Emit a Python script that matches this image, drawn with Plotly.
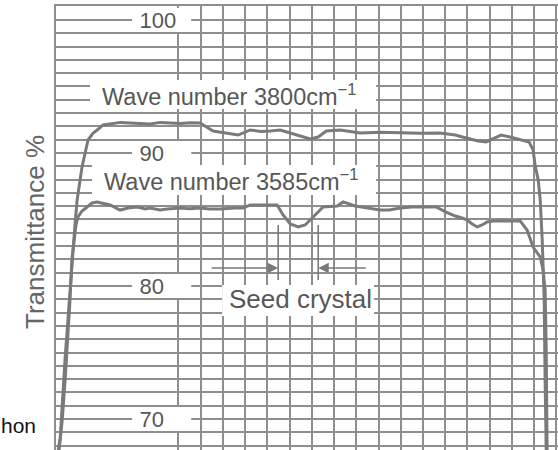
import plotly.graph_objects as go

# ---- data ----
tick_vals = [70, 80, 90, 100]
tick_text = ["70", "80", "90", "100"]

x_3800 = [-0.40, -0.31, -0.09, 0.22, 0.36, 0.45, 0.67, 0.94, 1.17, 1.35, 1.62, 1.93, 2.40, 2.83,
          3.30, 3.73, 4.20, 4.63, 5.10, 5.55, 5.98, 6.56, 7.10, 7.69, 8.23, 8.70, 9.13, 9.58,
          10.03, 10.48, 10.93, 11.29, 11.65, 12.28, 13.17, 14.10, 14.97, 15.90, 16.77, 17.45,
          17.94, 18.48, 18.84, 19.24, 19.51, 19.92, 20.46, 20.77, 20.95, 21.04, 21.18, 21.27,
          21.36, 21.45, 21.49, 21.54]
y_3800 = [67.67, 68.57, 74.59, 82.11, 84.74, 86.47, 88.95, 90.98, 91.50, 91.73, 92.11, 92.18,
          92.30, 92.26, 92.20, 92.18, 92.30, 92.26, 92.22, 92.28, 92.26, 91.65, 91.50, 91.35,
          91.73, 91.62, 91.65, 91.73, 91.50, 91.28, 91.05, 91.20, 91.65, 91.73, 91.50, 91.55,
          91.50, 91.48, 91.50, 91.35, 91.13, 90.90, 90.83, 91.13, 91.35, 91.20, 90.98, 90.83,
          90.23, 89.10, 87.97, 86.47, 83.46, 78.95, 72.93, 67.67]

x_3585 = [-0.36, -0.22, -0.09, 0.00, 0.13, 0.22, 0.27, 0.40, 0.49, 0.67, 0.90, 1.12, 1.35, 1.71,
          1.93, 2.38, 2.74, 3.15, 3.51, 3.73, 4.18, 4.50, 5.08, 5.50, 5.98, 6.40, 6.88, 7.55,
          7.91, 8.23, 8.90, 9.44, 9.71, 10.03, 10.39, 10.70, 11.06, 11.51, 12.14, 12.41, 12.95,
          13.49, 14.07, 14.48, 14.97, 15.51, 16.10, 16.59, 17.04, 17.45, 17.76, 17.99, 18.21,
          18.44, 18.66, 18.88, 19.15, 19.69, 20.37, 20.68, 20.95, 21.27, 21.40, 21.49, 21.54, 21.58]
y_3585 = [67.67, 69.92, 72.93, 75.19, 78.95, 82.11, 82.71, 84.59, 85.19, 85.64, 85.94, 86.24,
          86.32, 86.17, 86.09, 85.71, 85.86, 85.94, 85.79, 85.86, 85.71, 85.79, 85.86, 85.80,
          85.86, 85.79, 85.79, 85.86, 85.86, 86.09, 86.09, 86.09, 85.34, 84.66, 84.44, 84.59,
          85.19, 85.94, 86.02, 86.32, 86.02, 85.86, 85.71, 85.71, 85.86, 85.94, 85.94, 85.94,
          85.56, 85.26, 85.11, 84.96, 84.66, 84.44, 84.59, 84.81, 84.89, 84.89, 84.89, 84.21,
          82.93, 82.18, 81.20, 79.70, 75.19, 67.67]

series_names = ["Wave number 3800cm<sup>−1</sup>", "Wave number 3585cm<sup>−1</sup>"]
y_title = "Transmittance %"
seed_label = "Seed crystal"
seed_x = [9.49, 11.29]  # seed crystal boundaries

# ---- styles ----
GRID = "#8e8e8e"
CURVE = "#7a7a7a"
TXT = "#575757"
FONT = "Liberation Sans, Arial, sans-serif"

fig = go.Figure()
for xs, ys, nm in [(x_3800, y_3800, series_names[0]), (x_3585, y_3585, series_names[1])]:
    fig.add_trace(go.Scatter(x=xs, y=ys, mode="lines", name=nm,
                             line=dict(color=CURVE, width=3), showlegend=False,
                             hoverinfo="skip"))

shapes = []
def wbox(x0, x1, y0, y1):
    shapes.append(dict(type="rect", xref="x", yref="y", x0=x0, x1=x1, y0=y0, y1=y1,
                       fillcolor="white", line=dict(width=0), layer="between"))

# label boxes
wbox(1.03, 13.89, 93.31, 95.49)
wbox(1.12, 13.89, 86.84, 89.10)
wbox(6.97, 13.80, 77.74, 80.08)
for v in tick_vals:
    wbox(2.92, 5.58, v - 0.9, v + 0.9)

# seed crystal marker lines
for sx in seed_x:
    shapes.append(dict(type="line", xref="x", yref="y", x0=sx, x1=sx, y0=80.45, y1=84.59,
                       line=dict(color=CURVE, width=1.6), layer="above"))

annotations = [
    dict(x=1.48, y=94.36, xref="x", yref="y", text=series_names[0], showarrow=False,
         xanchor="left", yanchor="middle", font=dict(family=FONT, size=23.5, color=TXT)),
    dict(x=1.57, y=87.97, xref="x", yref="y", text=series_names[1], showarrow=False,
         xanchor="left", yanchor="middle", font=dict(family=FONT, size=23.5, color=TXT)),
    dict(x=10.48, y=79.0, xref="x", yref="y", text=seed_label, showarrow=False,
         xanchor="center", yanchor="middle", font=dict(family=FONT, size=26, color=TXT)),
    dict(x=seed_x[0], y=81.35, ax=6.43, ay=81.35, xref="x", yref="y", axref="x", ayref="y",
         text="", showarrow=True, arrowhead=2, arrowsize=1.4, arrowwidth=1.5, arrowcolor=CURVE),
    dict(x=seed_x[1], y=81.35, ax=13.49, ay=81.35, xref="x", yref="y", axref="x", ayref="y",
         text="", showarrow=True, arrowhead=2, arrowsize=1.4, arrowwidth=1.5, arrowcolor=CURVE),
    dict(x=-0.0418, y=0.491, xref="paper", yref="paper", text=y_title, showarrow=False,
         textangle=-90, xanchor="center", yanchor="middle",
         font=dict(family=FONT, size=26, color="#666666")),
    dict(x=-0.036, y=0.056, xref="paper", yref="paper", text="hon", showarrow=False,
         xanchor="right", yanchor="middle", font=dict(family=FONT, size=21, color="#111111")),
]

fig.update_layout(
    width=558, height=450,
    margin=dict(l=56, r=0, t=6, b=0, autoexpand=False),
    paper_bgcolor="white", plot_bgcolor="white",
    shapes=shapes, annotations=annotations,
    font=dict(family=FONT, color=TXT),
)
fig.update_xaxes(range=[-0.5, 22.07], dtick=1, tick0=0, showgrid=True, gridcolor=GRID,
                 gridwidth=1.6, showticklabels=False, ticks="", zeroline=False,
                 showline=True, linecolor=GRID, linewidth=2, mirror=True, automargin=False)
fig.update_yaxes(range=[67.67, 101.05], showgrid=True, gridcolor=GRID,
                 gridwidth=1.6, tickmode="array", tickvals=tick_vals, ticktext=tick_text,
                 ticklabelposition="inside", ticklabelstandoff=85, ticks="",
                 tickfont=dict(family=FONT, size=22, color=TXT), automargin=False,
                 zeroline=False, showline=True, linecolor=GRID, linewidth=2, mirror=True,
                 minor=dict(dtick=1, tick0=0, showgrid=True, gridcolor=GRID, gridwidth=1.6))

fig.write_html("out.html", config={"displayModeBar": False},
               post_script="document.body.style.margin='0';document.body.style.overflow='hidden';")
